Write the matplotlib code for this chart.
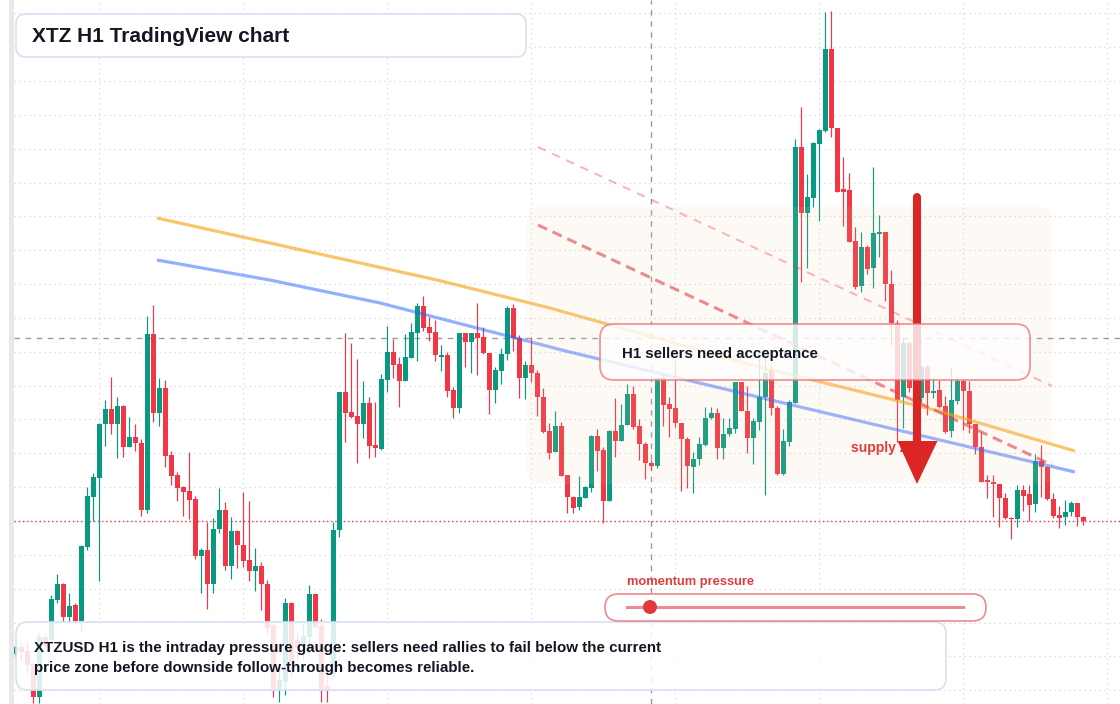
import numpy as np
import matplotlib
matplotlib.use("Agg")
import matplotlib.pyplot as plt
from matplotlib.patches import FancyBboxPatch, Rectangle, Polygon, Circle

plt.rcParams['font.family'] = ['Liberation Sans', 'DejaVu Sans']

# XTZUSD H1 candles, prices in 0.001 USD
opens = np.array([
    346, 353, 349, 336, 303, 363, 360, 400, 416, 383, 395, 379, 453, 503, 522, 576, 591, 576, 594, 553,
    563, 557, 490, 666, 587, 612, 545, 525, 513, 509, 501, 444, 450, 416, 471, 490, 434, 469, 455, 440,
    429, 434, 416, 375, 311, 318, 397, 360, 355, 363, 406, 374, 314, 326, 470, 608, 588, 584, 576, 597,
    555, 551, 620, 648, 636, 619, 642, 667, 694, 673, 668, 643, 645, 610, 592, 667, 658, 667, 663, 647,
    610, 629, 646, 692, 662, 622, 635, 627, 603, 569, 548, 574, 525, 503, 493, 502, 512, 564, 550, 499,
    569, 559, 575, 606, 574, 556, 537, 534, 622, 596, 592, 577, 561, 533, 541, 555, 582, 587, 552, 566,
    571, 618, 589, 562, 578, 603, 630, 592, 526, 558, 597, 853, 787, 802, 856, 869, 951, 872, 811, 810,
    759, 714, 753, 732, 766, 768, 716, 677, 603, 657, 612, 602, 633, 607, 610, 594, 569, 599, 619, 609,
    576, 553, 519, 518, 516, 502, 482, 481, 510, 506, 496, 539, 533, 501, 485, 483, 488, 497, 483]) / 1000
highs = np.array([
    355, 358, 358, 338, 367, 366, 405, 426, 417, 407, 397, 455, 513, 527, 577, 600, 623, 603, 595, 583,
    576, 561, 684, 695, 622, 620, 549, 528, 514, 548, 504, 452, 478, 482, 512, 498, 483, 470, 508, 499,
    452, 438, 420, 377, 337, 402, 398, 368, 376, 415, 406, 381, 328, 478, 608, 667, 657, 641, 619, 603,
    598, 626, 674, 661, 643, 666, 677, 697, 704, 683, 680, 655, 648, 613, 667, 667, 667, 697, 673, 647,
    633, 652, 694, 696, 665, 639, 663, 630, 612, 577, 589, 578, 525, 504, 524, 514, 565, 571, 553, 570,
    602, 596, 616, 614, 581, 558, 540, 623, 627, 603, 640, 577, 563, 548, 563, 593, 593, 592, 582, 582,
    618, 618, 614, 582, 647, 645, 635, 594, 571, 600, 861, 893, 826, 858, 871, 988, 989, 872, 843, 827,
    773, 768, 755, 833, 785, 768, 730, 680, 663, 658, 620, 635, 635, 623, 620, 604, 633, 623, 620, 619,
    576, 568, 525, 525, 516, 507, 483, 515, 515, 515, 546, 555, 534, 507, 494, 500, 499, 497, 484]) / 1000
lows = np.array([
    344, 339, 327, 297, 297, 352, 357, 397, 378, 378, 377, 368, 450, 479, 419, 554, 566, 542, 543, 553,
    549, 484, 487, 578, 574, 533, 515, 499, 484, 481, 441, 407, 391, 407, 467, 430, 421, 432, 433, 419,
    409, 390, 366, 303, 298, 305, 323, 340, 340, 345, 372, 298, 298, 324, 463, 558, 582, 537, 562, 542,
    543, 550, 608, 622, 593, 619, 642, 639, 669, 659, 639, 629, 603, 582, 587, 633, 627, 625, 646, 586,
    597, 616, 640, 649, 602, 601, 618, 584, 567, 541, 548, 524, 487, 487, 490, 502, 508, 529, 477, 499,
    543, 559, 575, 571, 540, 521, 530, 532, 574, 563, 573, 509, 512, 507, 535, 554, 581, 541, 541, 564,
    567, 589, 547, 536, 570, 505, 585, 525, 525, 554, 597, 718, 732, 793, 779, 868, 863, 808, 774, 758,
    711, 708, 726, 712, 743, 699, 655, 558, 572, 608, 582, 598, 585, 602, 592, 567, 563, 596, 570, 567,
    546, 518, 502, 483, 473, 481, 461, 473, 489, 479, 488, 503, 500, 482, 472, 475, 484, 474, 475]) / 1000
closes = np.array([
    353, 348, 335, 303, 363, 354, 401, 416, 383, 394, 379, 454, 504, 523, 576, 591, 576, 594, 553, 563,
    557, 490, 666, 587, 612, 544, 524, 512, 508, 500, 444, 450, 416, 471, 490, 434, 469, 455, 439, 429,
    434, 416, 372, 311, 320, 397, 338, 352, 364, 406, 373, 311, 310, 470, 608, 587, 583, 576, 597, 554,
    552, 621, 648, 635, 619, 643, 668, 694, 672, 667, 645, 645, 609, 592, 667, 658, 667, 662, 647, 610,
    630, 646, 692, 662, 622, 635, 627, 603, 568, 547, 574, 524, 503, 492, 503, 513, 564, 549, 499, 569,
    559, 575, 606, 573, 556, 537, 534, 622, 595, 591, 577, 561, 534, 541, 556, 582, 587, 552, 566, 572,
    618, 589, 562, 579, 603, 627, 592, 526, 559, 598, 853, 787, 803, 857, 870, 951, 872, 808, 808, 758,
    713, 753, 731, 767, 768, 716, 677, 600, 657, 612, 604, 633, 607, 609, 593, 568, 600, 619, 609, 576,
    553, 518, 518, 516, 502, 482, 481, 510, 504, 495, 539, 533, 501, 484, 482, 488, 497, 483, 479]) / 1000

# overlay studies (bar index, price)
blue_x = [23.6, 42.4, 60.8, 92.4, 122.4, 154.1, 176.6]
blue_y = [0.740, 0.720, 0.697, 0.648, 0.605, 0.560, 0.528]
orange_x = [23.6, 70.3, 89.1, 124.1, 153.3, 176.6]
orange_y = [0.782, 0.720, 0.692, 0.633, 0.590, 0.549]
upper_chan_x = [87.1, 172.8]
upper_chan_y = [0.853, 0.614]
lower_chan_x = [87.1, 172.8]
lower_chan_y = [0.775, 0.535]
cross_bar = 106
cross_price = 0.662

title = "XTZ H1 TradingView chart"
callout = "H1 sellers need acceptance"
note = ("XTZUSD H1 is the intraday pressure gauge: sellers need rallies to fail below the current\n"
        "price zone before downside follow-through becomes reliable.")

UP = '#089981'
DOWN = '#f23645'
INK = '#131722'

fig = plt.figure(figsize=(11.2, 7.04), dpi=100)
ax = fig.add_axes([14 / 1120, 0, 1106 / 1120, 1])
ax.set_xlim(-0.22, -0.22 + 1106 / 6)
ax.set_ylim(0.296, 1.0)
ax.axis('off')

# grid
for lv in 0.479 + 0.03385 * np.arange(-6, 16):
    ax.axhline(lv, color='#d3d7de', lw=0.9, ls=(0, (1, 3)), zorder=0)
for vx in np.arange(14, 190, 24):
    ax.axvline(vx, color='#d3d7de', lw=0.9, ls=(0, (1, 3)), zorder=0)

# crosshair + last price
ax.axhline(cross_price, color='#9b9b9b', lw=1, ls=(0, (4, 4)), zorder=1)
ax.axvline(cross_bar, color='#9b9b9b', lw=1, ls=(0, (4, 4)), zorder=1)
ax.axhline(closes[-1], color=DOWN, lw=1, ls=(0, (1, 2)), zorder=1)

# candles
idx = np.arange(len(opens))
cols = np.where(closes >= opens, UP, DOWN)
ax.vlines(idx, lows, highs, colors=cols, lw=0.85, zorder=2)
body_lo = np.minimum(opens, closes)
body_h = np.maximum(np.abs(closes - opens), 0.0015)
ax.bar(idx, body_h, bottom=body_lo, width=0.82, color=cols, lw=0, zorder=2)

# studies
ax.plot(orange_x, orange_y, color='#f59e0b', alpha=0.6, lw=2.3, zorder=4, solid_capstyle='butt')
ax.plot(blue_x, blue_y, color='#2962ff', alpha=0.5, lw=2.3, zorder=4, solid_capstyle='butt')
ax.plot(upper_chan_x, upper_chan_y, color='#e0313a', alpha=0.35, lw=1.5, ls=(0, (4, 3.5)), zorder=4)
ax.plot(lower_chan_x, lower_chan_y, color='#e0313a', alpha=0.6, lw=2.2, ls=(0, (3.3, 2)), zorder=4)

# annotation layer in pixel coordinates
ov = fig.add_axes([0, 0, 1, 1])
ov.set_xlim(0, 1120)
ov.set_ylim(704, 0)
ov.axis('off')
ov.patch.set_alpha(0)

ov.add_patch(Rectangle((9, 0), 4.5, 704, color='#e8e8e8', lw=0, zorder=1))

ov.add_patch(FancyBboxPatch((527, 207), 525, 277, boxstyle='round,pad=0,rounding_size=12',
                            fc='#f5d0a9', alpha=0.11, lw=0, zorder=2))

ov.text(851, 448, 'supply zone', color='#e23b3b', fontsize=10, fontweight='bold',
        va='center', ha='left', zorder=3)
ov.plot([917, 917], [197, 445], color='#dc2626', lw=5.8, solid_capstyle='round', zorder=4)
ov.add_patch(Polygon([(897.5, 441), (937.5, 441), (917, 484)], closed=True, color='#dc2626', lw=0, zorder=4))

ov.add_patch(FancyBboxPatch((600, 324), 430, 56, boxstyle='round,pad=0,rounding_size=14',
                            fc=(1, 1, 1, 0.8), ec=(0.93, 0.45, 0.48, 0.75), lw=1.3, zorder=6))
ov.text(622, 354, callout, color=INK, fontsize=10.8, fontweight='bold', va='center', ha='left', zorder=7)

ov.add_patch(FancyBboxPatch((16, 14), 510, 43, boxstyle='round,pad=0,rounding_size=10',
                            fc='white', ec='#d5e1f3', lw=1.2, zorder=6))
ov.text(32, 36, title, color=INK, fontsize=15, fontweight='bold', va='center', ha='left', zorder=7)

ov.add_patch(FancyBboxPatch((16, 622), 930, 68, boxstyle='round,pad=0,rounding_size=12',
                            fc=(1, 1, 1, 0.86), ec='#d5e1f3', lw=1.2, zorder=6))
ov.text(34, 658, note, color=INK, fontsize=10.9, fontweight='bold', va='center', ha='left',
        linespacing=1.5, zorder=7)

ov.text(627, 582, 'momentum pressure', color='#e23b3b', fontsize=9.3, fontweight='bold',
        va='center', ha='left', zorder=7)
ov.add_patch(FancyBboxPatch((605, 594), 381, 27, boxstyle='round,pad=0,rounding_size=13.5',
                            fc='white', ec='#ef8a8f', lw=1.2, zorder=6))
ov.plot([627, 963], [607, 607], color='#ef8a8f', lw=2.2, zorder=7)
ov.add_patch(Circle((650, 607), 7, color='#e03a3a', lw=0, zorder=8))

fig.savefig('out.png', dpi=100)
